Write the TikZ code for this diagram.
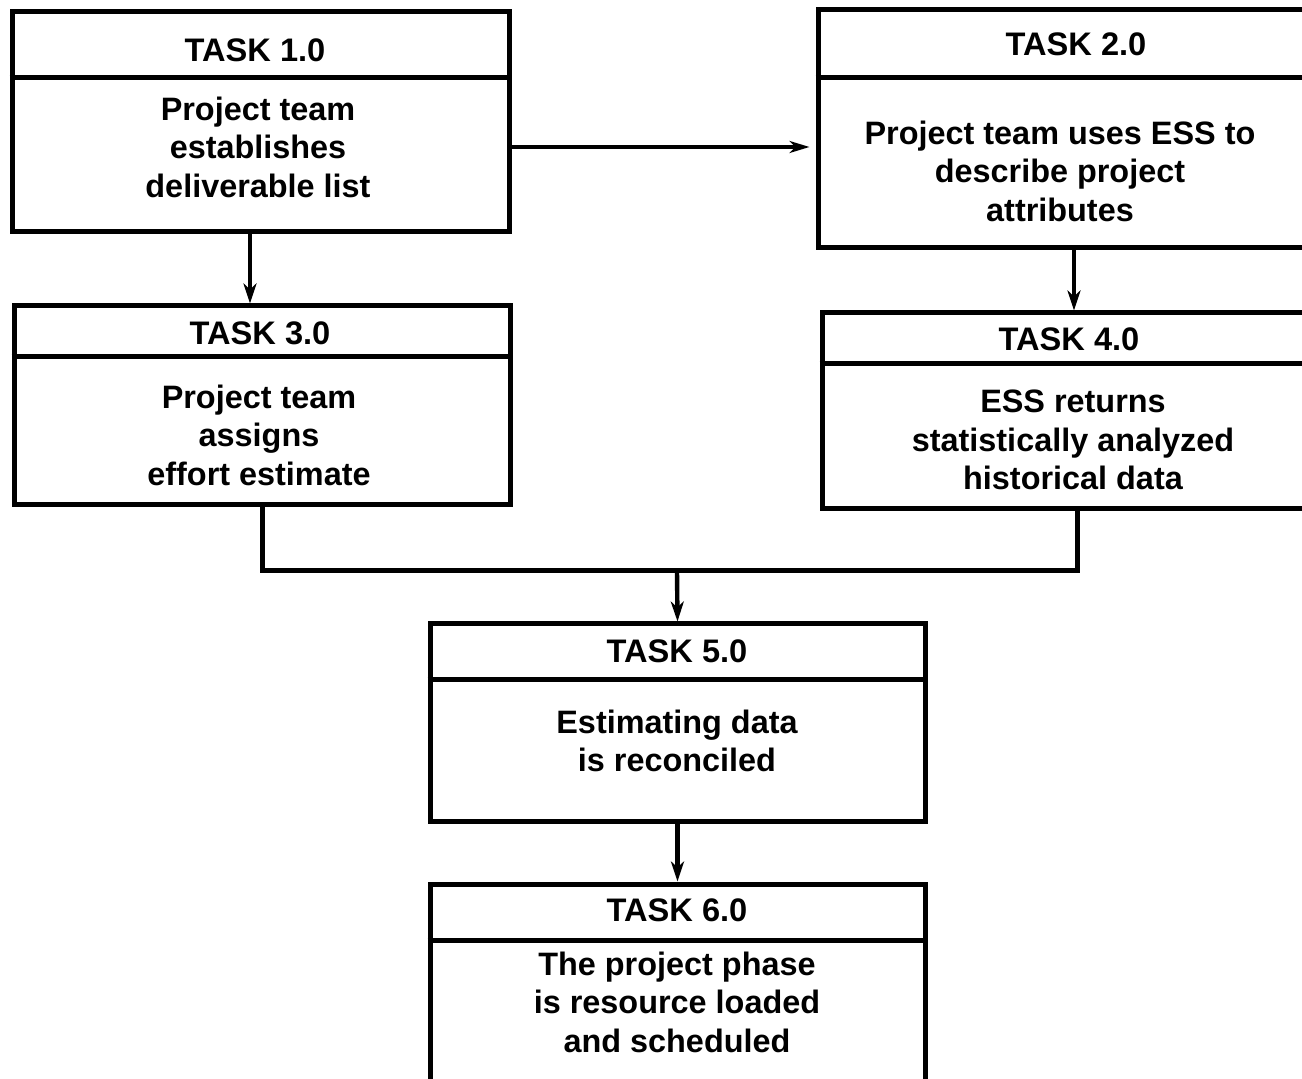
\documentclass[tikz,border=0pt]{standalone}
\usepackage{fontspec}
\setmainfont{Liberation Sans}
\usetikzlibrary{arrows.meta}
\begin{document}
\begin{tikzpicture}[x=0.5pt,y=-0.5pt,
  taskbox/.style={draw, line width=2.5pt, inner sep=0pt, fill=none},
  divider/.style={line width=2.5pt},
  hdr/.style={font=\bfseries\fontsize{16.3}{19.25}\selectfont, inner sep=0pt},
  body/.style={font=\bfseries\fontsize{16.2}{19.25}\selectfont, align=center, inner sep=0pt},
  arr/.style={line width=2.2pt, -{Stealth[length=10pt,width=6.5pt,inset=3pt]}},
  harr/.style={line width=1.7pt, shorten >=3pt, -{Stealth[length=10pt,width=6pt,inset=3pt]}},
  joinline/.style={line width=2.5pt}]
\clip (0,0) rectangle (1302,1079);
\fill[white] (0,0) rectangle (1302,1079);

% boxes
\node[taskbox, minimum width=248.5pt, minimum height=110pt] (t1) at (260.5,122) {};
\node[taskbox, minimum width=258pt, minimum height=119pt] (t2) at (1076,129) {};
\node[taskbox, minimum width=248pt, minimum height=99.5pt] (t3) at (262,405.5) {};
\node[taskbox, minimum width=251pt, minimum height=98pt] (t4) at (1073,411) {};
\node[taskbox, minimum width=247.5pt, minimum height=99pt] (t5) at (677.5,723) {};
\node[taskbox, minimum width=247.5pt, minimum height=108pt] (t6) at (677.5,992) {};

% dividers
\draw[divider] (t1.west |- 0,78) -- (t1.east |- 0,78);
\draw[divider] (t2.west |- 0,78) -- (t2.east |- 0,78);
\draw[divider] (t3.west |- 0,357) -- (t3.east |- 0,357);
\draw[divider] (t4.west |- 0,364) -- (t4.east |- 0,364);
\draw[divider] (t5.west |- 0,680) -- (t5.east |- 0,680);
\draw[divider] (t6.west |- 0,940) -- (t6.east |- 0,940);

% headers
\node[hdr] (h1) at (255,50) {TASK 1.0};
\node[hdr] (h2) at (1076,44) {TASK 2.0};
\node[hdr] (h3) at (260,333) {TASK 3.0};
\node[hdr] (h4) at (1069,339) {TASK 4.0};
\node[hdr] (h5) at (677,651) {TASK 5.0};
\node[hdr] (h6) at (677,910) {TASK 6.0};

% bodies
\node[body] (b1) at (258,147) {Project team\\establishes\\deliverable list};
\node[body] (b2) at (1060,171) {Project team uses ESS to\\describe project\\attributes};
\node[body] (b3) at (259,435) {Project team\\assigns\\effort estimate};
\node[body] (b4) at (1073,440) {ESS returns\\statistically analyzed\\historical data};
\node[body] (b5) at (677,741) {Estimating data\\ is reconciled};
\node[body] (b6) at (677,1002) {The project phase\\is resource loaded\\and scheduled};

% connectors
\coordinate (j) at (677,571);
\draw[harr] (t1.east |- 0,147) -- (t2.west |- 0,147);
\draw[arr] (t1.south -| 250,0) -- (t3.north -| 250,0);
\draw[arr] (t2.south -| 1074,0) -- (t4.north -| 1074,0);
\draw[joinline] (t3.south -| 262,0) |- (j);
\draw[joinline] (t4.south -| 1077,0) |- (j);
\draw[arr] (j) -- (t5.north);
\draw[arr] (t5.south) -- (t6.north);
\end{tikzpicture}
\end{document}
